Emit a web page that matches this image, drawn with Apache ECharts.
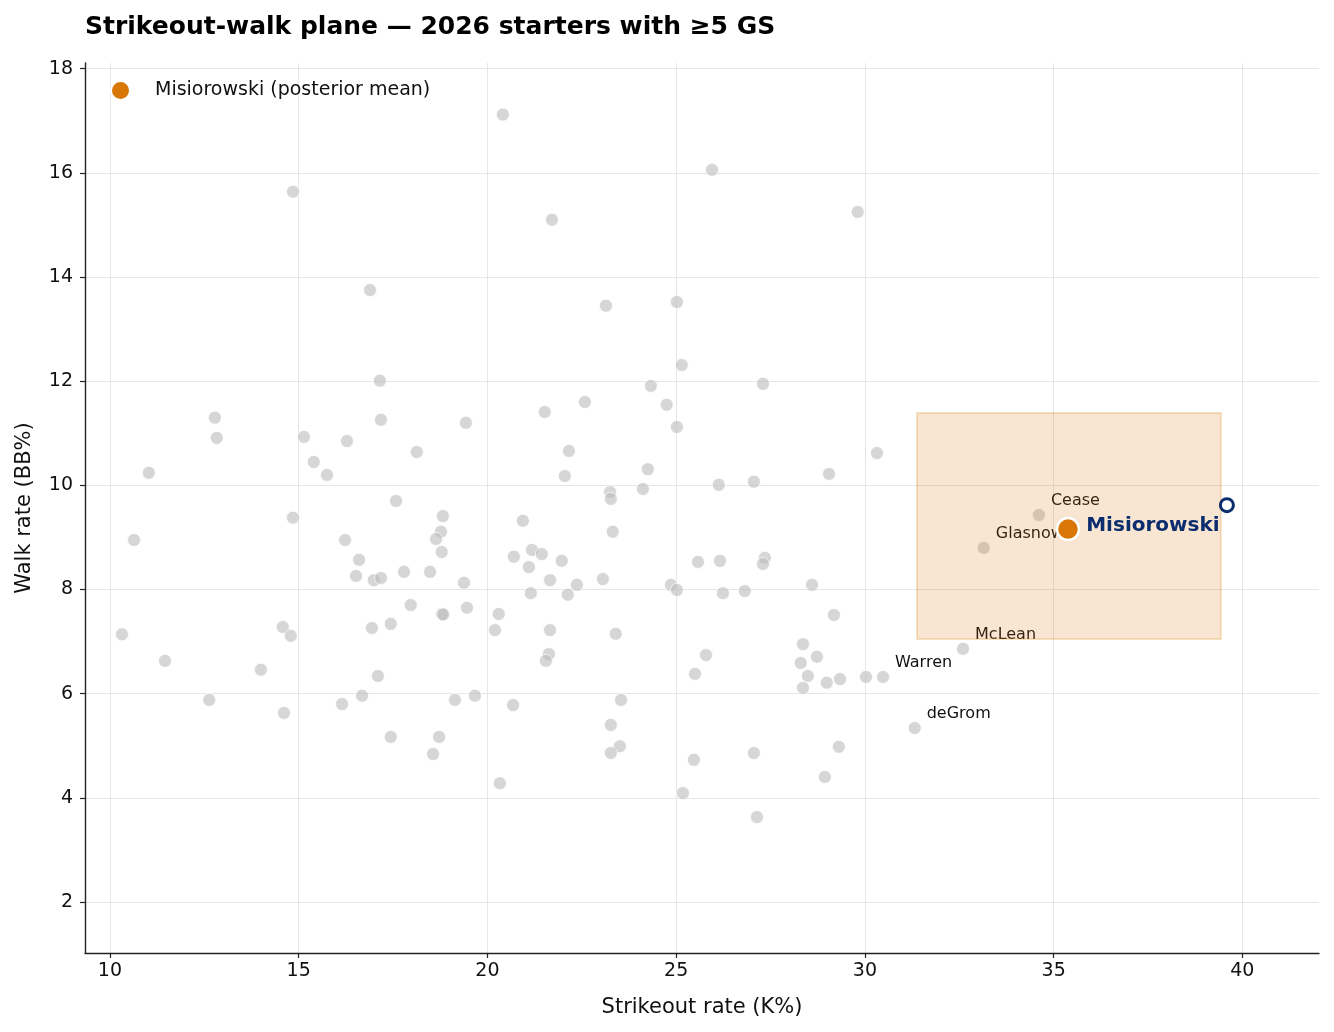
<!DOCTYPE html>
<html>
<head>
	<meta charset="utf-8">
	<title>Strikeout-walk plane</title>
	<script src="https://cdn.jsdelivr.net/npm/echarts@6/dist/echarts.min.js"></script>
	<style>
		html, body { margin: 0; padding: 0; background: #fff; }
		#main { width: 1334px; height: 1032px; }
	</style>
</head>
<body>
<div id="main"></div>
<script type="text/javascript">
// 其他先发投手 K% / BB%
var leagueK = [20.41, 14.85, 16.89, 17.15, 12.78, 12.83, 15.14, 17.18, 19.43, 16.28, 18.13, 15.40, 15.75, 11.03, 17.58,
	25.95, 21.71, 29.81, 23.14, 25.02, 25.15, 24.33, 27.30, 24.75, 22.58, 21.52, 25.02, 22.16, 30.32, 22.05, 24.25, 29.05, 27.06, 26.13, 24.12, 23.25, 23.27,
	18.82, 18.77, 18.64, 18.79, 14.85, 10.64, 16.23, 16.60, 16.52, 16.99, 17.18, 17.79, 18.48, 19.38, 17.97, 18.80, 18.83, 19.46, 20.30, 20.20,
	10.32, 14.58, 14.79, 16.94, 17.44, 11.46, 14.00, 17.10, 12.63, 14.61, 16.15, 16.68, 19.14, 19.67, 17.44, 18.72, 18.56, 20.33,
	20.94, 23.32, 21.18, 20.70, 21.44, 21.10, 21.97, 21.66, 22.37, 22.13, 21.15, 23.06, 24.86, 25.02, 25.58, 26.16, 27.35, 27.30, 26.24, 26.82, 28.60, 29.18,
	21.66, 23.40, 21.63, 21.55, 25.79, 25.50, 28.36, 28.73, 28.30, 28.49, 28.36, 28.99, 29.34, 30.03,
	20.68, 23.54, 23.27, 23.51, 23.27, 25.47, 27.06, 29.31, 28.94, 25.18, 27.14];
var leagueBB = [17.12, 15.64, 13.75, 12.01, 11.30, 10.91, 10.93, 11.26, 11.20, 10.85, 10.64, 10.45, 10.20, 10.24, 9.70,
	16.06, 15.10, 15.25, 13.45, 13.52, 12.31, 11.91, 11.95, 11.55, 11.60, 11.41, 11.12, 10.66, 10.62, 10.18, 10.31, 10.22, 10.07, 10.01, 9.93, 9.87, 9.74,
	9.41, 9.11, 8.97, 8.72, 9.38, 8.95, 8.95, 8.57, 8.26, 8.18, 8.22, 8.34, 8.34, 8.13, 7.70, 7.53, 7.52, 7.65, 7.53, 7.22,
	7.14, 7.28, 7.11, 7.26, 7.34, 6.63, 6.46, 6.34, 5.88, 5.63, 5.80, 5.96, 5.88, 5.96, 5.17, 5.17, 4.84, 4.28,
	9.32, 9.11, 8.76, 8.63, 8.68, 8.43, 8.55, 8.18, 8.09, 7.90, 7.93, 8.20, 8.09, 7.99, 8.53, 8.55, 8.61, 8.49, 7.93, 7.97, 8.09, 7.51,
	7.22, 7.15, 6.76, 6.63, 6.74, 6.38, 6.95, 6.71, 6.59, 6.34, 6.11, 6.21, 6.28, 6.32,
	5.78, 5.88, 5.40, 4.99, 4.86, 4.73, 4.86, 4.98, 4.40, 4.09, 3.63];

// 标注的投手
var namedPitchers = ['Warren', 'deGrom', 'McLean', 'Glasnow', 'Cease'];
var namedK = [30.48, 31.32, 32.60, 33.15, 34.61];
var namedBB = [6.32, 5.34, 6.86, 8.80, 9.43];

// Misiorowski
var misioMean = [35.38, 9.16];
var misioObserved = [39.59, 9.62];
var intervalK = [31.38, 39.43];
var intervalBB = [7.05, 11.39];

// 刻度
var xTicks = [10, 15, 20, 25, 30, 35, 40];
var yTicks = [2, 4, 6, 8, 10, 12, 14, 16, 18];

var navy = '#0b2d6e';
var orange = '#d97706';
var font = 'DejaVu Sans';

var leagueData = leagueK.map(function (k, i) { return [k, leagueBB[i]]; });
var namedData = namedK.map(function (k, i) { return { name: namedPitchers[i], value: [k, namedBB[i]] }; });

var pointStyle = {
	color: 'rgba(187,187,187,0.6)',
	borderColor: 'rgba(255,255,255,0.7)',
	borderWidth: 1,
	opacity: 1
};

var myChart = echarts.init(document.getElementById('main'), null, { renderer: 'canvas' });

var option = {
	animation: false,
	textStyle: { fontFamily: font },
	title: {
		text: 'Strikeout-walk plane — 2026 starters with ≥5 GS',
		left: 80,
		top: 10,
		textStyle: { fontFamily: font, fontSize: 25, fontWeight: 'bold', color: '#000' }
	},
	legend: {
		left: 105,
		top: 75,
		icon: 'circle',
		itemWidth: 19,
		itemHeight: 19,
		data: ['Misiorowski (posterior mean)'],
		textStyle: { fontFamily: font, fontSize: 19, color: '#111', padding: [0, 0, 0, 20] }
	},
	grid: { left: 85, right: 15, top: 63, bottom: 79, containLabel: false },
	xAxis: {
		type: 'value',
		min: 9.34,
		max: 42.03,
		name: 'Strikeout rate (K%)',
		nameLocation: 'middle',
		nameGap: 44,
		nameTextStyle: { fontFamily: font, fontSize: 21, color: '#111' },
		axisLine: { show: true, onZero: false, lineStyle: { color: '#222', width: 1.4 } },
		axisTick: { show: true, inside: false, length: 5, customValues: xTicks, lineStyle: { color: '#222', width: 1.2 } },
		axisLabel: { customValues: xTicks, margin: 9, fontFamily: font, fontSize: 19, color: '#111' },
		splitLine: { show: true, lineStyle: { color: '#e6e6e6', width: 1 } }
	},
	yAxis: {
		type: 'value',
		min: 1.02,
		max: 18.11,
		name: 'Walk rate (BB%)',
		nameLocation: 'middle',
		nameGap: 50,
		nameTextStyle: { fontFamily: font, fontSize: 21, color: '#111' },
		axisLine: { show: true, onZero: false, lineStyle: { color: '#222', width: 1.4 } },
		axisTick: { show: true, inside: false, length: 5, customValues: yTicks, lineStyle: { color: '#222', width: 1.2 } },
		axisLabel: { customValues: yTicks, margin: 12, fontFamily: font, fontSize: 19, color: '#111' },
		splitLine: { show: true, lineStyle: { color: '#e6e6e6', width: 1 } }
	},
	series: [
		{
			name: 'league',
			type: 'scatter',
			z: 2,
			symbolSize: 13,
			itemStyle: pointStyle,
			emphasis: { disabled: true },
			data: leagueData
		},
		{
			name: 'named',
			type: 'scatter',
			z: 2,
			symbolSize: 13,
			itemStyle: pointStyle,
			emphasis: { disabled: true },
			label: {
				show: true,
				position: 'right',
				distance: 5,
				offset: [0, -14],
				formatter: '{b}',
				fontFamily: font,
				fontSize: 16,
				color: '#111',
				opacity: 1
			},
			data: namedData
		},
		{
			name: 'interval',
			type: 'scatter',
			z: 3,
			data: [],
			markArea: {
				z: 3,
				silent: true,
				itemStyle: { color: 'rgba(217,119,6,0.18)', borderColor: 'rgba(217,119,6,0.22)', borderWidth: 2 },
				data: [[{ coord: [intervalK[0], intervalBB[0]] }, { coord: [intervalK[1], intervalBB[1]] }]]
			}
		},
		{
			name: 'observed',
			type: 'scatter',
			zlevel: 1,
			z: 5,
			symbol: 'circle',
			symbolSize: 13,
			itemStyle: { color: '#fff', borderColor: navy, borderWidth: 3, opacity: 1 },
			emphasis: { disabled: true },
			data: [misioObserved]
		},
		{
			name: 'Misiorowski (posterior mean)',
			type: 'scatter',
			zlevel: 1,
			z: 6,
			symbolSize: 22,
			itemStyle: { color: orange, borderColor: '#fff', borderWidth: 2.5, opacity: 1 },
			emphasis: { disabled: true },
			label: {
				show: true,
				position: 'right',
				distance: 6,
				offset: [0, -3],
				formatter: 'Misiorowski',
				fontFamily: font,
				fontSize: 20,
				fontWeight: 'bold',
				color: navy,
				opacity: 1
			},
			data: [misioMean]
		}
	]
};

myChart.setOption(option);
</script>
</body>
</html>
